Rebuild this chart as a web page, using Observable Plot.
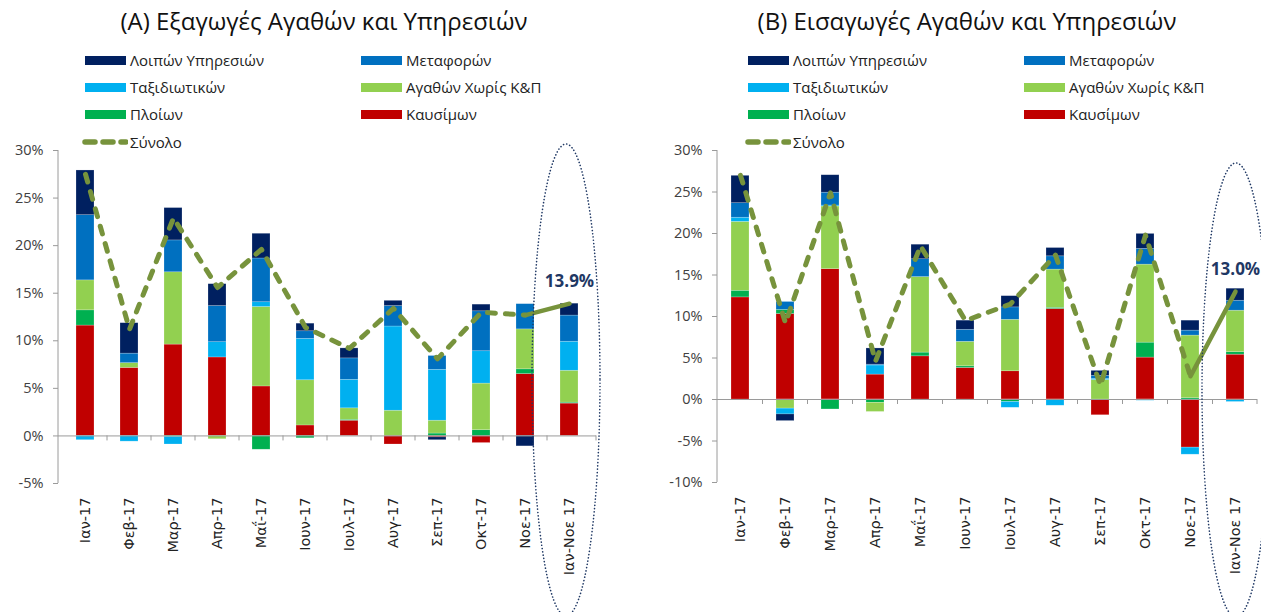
<!DOCTYPE html>
<html>
<head>
<meta charset="utf-8">
<script src="https://cdn.jsdelivr.net/npm/d3@7"></script>
<script src="https://cdn.jsdelivr.net/npm/@observablehq/plot@0.6"></script>
<style>
  body { margin: 0; background: #fff; }
  #wrap { position: relative; width: 1261px; height: 612px; overflow: hidden; font-family: "Open Sans", sans-serif; }
  .panel { position: absolute; top: 0; }
  .title { position: absolute; top: 4px; font-size: 24px; color: #111; white-space: nowrap; transform: translateX(-50%); }
  .leg { position: absolute; display: flex; align-items: center; font-size: 15px; color: #222; white-space: nowrap; height: 20px; }
  .sw { display: inline-block; width: 41px; height: 9px; margin-right: 4px; }
</style>
</head>
<body>
<div id="wrap"></div>
<script>
// ---------- Data ----------
const categories = ["Ιαν-17", "Φεβ-17", "Μαρ-17", "Απρ-17", "Μαΐ-17", "Ιουν-17", "Ιουλ-17", "Αυγ-17", "Σεπ-17", "Οκτ-17", "Νοε-17", "Ιαν-Νοε 17"];
const seriesNames = ["Λοιπών Υπηρεσιών", "Μεταφορών", "Ταξιδιωτικών", "Αγαθών Χωρίς Κ&Π", "Πλοίων", "Καυσίμων"];
const totalName = "Σύνολο";
const seriesColors = ["#002060", "#0070C0", "#00B0F0", "#92D050", "#00B050", "#C00000"];
const yTicksA = [-5, 0, 5, 10, 15, 20, 25, 30];
const yTicksB = [-10, -5, 0, 5, 10, 15, 20, 25, 30];
const titleA = "(A) Εξαγωγές Αγαθών και Υπηρεσιών";
const titleB = "(B) Εισαγωγές Αγαθών και Υπηρεσιών";

// (A) Exports, contributions in percentage points
const exportsOther     = [4.7, 3.2, 3.4, 2.3, 2.6, 0.8, 1.05, 0.55, -0.3, 0.7, -1.1, 1.25];
const exportsTransport = [6.85, 1.0, 3.35, 3.8, 4.6, 0.8, 2.25, 2.15, 1.45, 4.2, 2.65, 2.75];
const exportsTravel    = [-0.45, -0.6, -0.8, 1.6, 0.5, 4.35, 3.0, 8.85, 5.35, 3.4, 0.0, 3.05];
const exportsGoods     = [3.15, 0.5, 7.6, -0.35, 8.35, 4.75, 1.2, 2.65, 1.35, 4.9, 4.2, 3.35];
const exportsShips     = [1.6, 0.0, -0.1, 0.0, -1.45, -0.25, 0.1, 0.0, 0.25, 0.6, 0.5, 0.1];
const exportsFuel      = [11.6, 7.15, 9.6, 8.25, 5.2, 1.1, 1.6, -0.9, -0.15, -0.75, 6.5, 3.4];
const exportsTotal     = [27.5, 11.2, 22.9, 15.6, 19.6, 11.4, 9.2, 13.4, 8.1, 13.0, 12.7, 13.9];

// (B) Imports, contributions in percentage points
const importsOther     = [3.3, -0.8, 2.1, 1.95, 1.75, 1.1, 1.35, 1.0, 0.6, 1.8, 1.2, 1.45];
const importsTransport = [1.75, 0.95, 1.55, 0.1, 2.15, 1.45, 1.5, 1.6, 0.35, 1.9, 0.6, 1.2];
const importsTravel    = [0.5, -0.7, 0.12, 1.1, 0.0, 0.0, -0.7, -0.75, 0.15, -0.15, -0.85, -0.3];
const importsGoods     = [8.3, -1.1, 7.55, -1.1, 9.1, 2.95, 6.2, 4.6, 2.35, 9.4, 7.55, 5.0];
const importsShips     = [0.8, 0.5, -1.2, -0.4, 0.45, 0.2, -0.3, 0.15, 0.0, 1.8, 0.15, 0.3];
const importsFuel      = [12.3, 10.3, 15.7, 3.0, 5.2, 3.8, 3.4, 10.9, -1.9, 5.05, -5.8, 5.4];
const importsTotal     = [27.0, 9.2, 24.9, 4.6, 18.5, 9.5, 11.5, 17.4, 1.7, 19.8, 2.8, 13.0];

// ---------- Helpers ----------
const wrap = document.getElementById("wrap");
const olive = "#77933C";
const navyText = "#1F3864";

function records(seriesArrays) {
  // stack from bottom: Καυσίμων first ... Λοιπών last
  const out = [];
  for (let s = seriesNames.length - 1; s >= 0; s--) {
    categories.forEach((c, j) => out.push({cat: c, series: seriesNames[s], value: seriesArrays[s][j]}));
  }
  return out;
}

function buildPanel(cfg) {
  const data = records(cfg.series);
  const tot = categories.map((c, j) => ({cat: c, value: cfg.total[j]}));
  const chart = Plot.plot({
    width: cfg.width,
    height: 612,
    marginLeft: cfg.ml,
    marginRight: cfg.mr,
    marginTop: 150,
    marginBottom: cfg.mb,
    style: {fontFamily: "Open Sans, sans-serif", background: "transparent", overflow: "visible"},
    x: {type: "band", domain: categories, paddingInner: 0.6, paddingOuter: 0.3, axis: null, label: null},
    y: {domain: cfg.yDomain, axis: null, label: null},
    color: {domain: seriesNames, range: seriesColors},
    marks: [
      Plot.barY(data, {x: "cat", y: "value", fill: "series", stroke: "#ffffff", strokeOpacity: 0.35, strokeWidth: 0.6}),
      Plot.ruleY([0], {stroke: "#9a9a9a", strokeWidth: 1}),
      Plot.axisY({ticks: cfg.yTicks, tickFormat: d => d + "%", tickSize: 5, tickPadding: 10, fontSize: 14.5, stroke: "#9a9a9a", fill: "#404040", fontFamily: "Open Sans, sans-serif", label: null}),
      Plot.axisX({tickRotate: -90, tickSize: 0, tickPadding: 14, fontSize: 14.5, fill: "#222", fontFamily: "DejaVu Sans, sans-serif", label: null}),
      Plot.line(tot.slice(0, 11), {x: "cat", y: "value", stroke: olive, strokeWidth: 5, strokeDasharray: "8,10", strokeLinecap: "round", strokeLinejoin: "round"}),
      Plot.line(tot.slice(10), {x: "cat", y: "value", stroke: olive, strokeWidth: 4.5, strokeLinecap: "round"}),
      Plot.text(tot.slice(11), {x: "cat", y: "value", text: d => d.value.toFixed(1) + "%", dy: -22, fill: navyText, fontWeight: "bold", fontSize: 17, fontFamily: "Open Sans, sans-serif"})
    ]
  });
  const x = chart.scale("x"), y = chart.scale("y");
  const svg = d3.select(chart);
  const bw = x.bandwidth, step = x.step;
  const x0 = cfg.ml, x1 = cfg.width - cfg.mr;
  // y-axis line
  svg.append("line").attr("x1", x0).attr("x2", x0).attr("y1", y.apply(cfg.yDomain[1])).attr("y2", y.apply(cfg.yDomain[0]))
    .attr("stroke", "#9a9a9a").attr("stroke-width", 1);
  // category boundary ticks below zero line
  const y0 = y.apply(0);
  categories.forEach((c, j) => {
    const bx = x.apply(c) - (step - bw) / 2;
    if (j > 0) svg.append("line").attr("x1", bx).attr("x2", bx).attr("y1", y0).attr("y2", y0 + 5).attr("stroke", "#9a9a9a");
  });
  svg.append("line").attr("x1", x1).attr("x2", x1).attr("y1", y0).attr("y2", y0 + 5).attr("stroke", "#9a9a9a");
  // dotted ellipse around the cumulative column
  const last = categories[categories.length - 1];
  svg.append("ellipse")
    .attr("cx", x.apply(last) + bw / 2 + cfg.ellDx)
    .attr("cy", cfg.ellCy).attr("rx", cfg.ellRx).attr("ry", cfg.ellRy)
    .attr("fill", "none").attr("stroke", navyText).attr("stroke-width", 1.6)
    .attr("stroke-dasharray", "0.1,3.2").attr("stroke-linecap", "round");

  const div = document.createElement("div");
  div.className = "panel";
  div.style.left = cfg.left + "px";
  div.appendChild(chart);
  wrap.appendChild(div);

  // title
  const t = document.createElement("div");
  t.className = "title";
  t.textContent = cfg.title;
  t.style.left = cfg.titleX + "px";
  wrap.appendChild(t);

  // legend
  const items = seriesNames.map((n, i) => ({name: n, color: seriesColors[i]}));
  items.forEach((it, i) => {
    const col = i % 2, row = Math.floor(i / 2);
    const el = document.createElement("div");
    el.className = "leg";
    el.style.left = (cfg.legX + col * 276) + "px";
    el.style.top = (50 + row * 27) + "px";
    const sw = document.createElement("span");
    sw.className = "sw";
    sw.style.background = it.color;
    el.appendChild(sw);
    el.appendChild(document.createTextNode(it.name));
    wrap.appendChild(el);
  });
  const el = document.createElement("div");
  el.className = "leg";
  el.style.left = (cfg.legX - 3) + "px";
  el.style.top = (50 + 3 * 27 + 1) + "px";
  el.innerHTML = `<svg width="46" height="10" style="margin-right:2px"><line x1="3" y1="5" x2="44" y2="5" stroke="${olive}" stroke-width="5.5" stroke-linecap="round" stroke-dasharray="10,8"/></svg>`;
  el.appendChild(document.createTextNode(totalName));
  wrap.appendChild(el);
}

buildPanel({
  left: 0, width: 631, ml: 58, mr: 35, mb: 129, yDomain: [-5, 30], yTicks: yTicksA,
  series: [exportsOther, exportsTransport, exportsTravel, exportsGoods, exportsShips, exportsFuel],
  total: exportsTotal, title: titleA, titleX: 324, legX: 85,
  ellDx: -3, ellCy: 380, ellRx: 34, ellRy: 236
});
buildPanel({
  left: 631, width: 630, ml: 86, mr: 4, mb: 130, yDomain: [-10, 30], yTicks: yTicksB,
  series: [importsOther, importsTransport, importsTravel, importsGoods, importsShips, importsFuel],
  total: importsTotal, title: titleB, titleX: 967, legX: 748,
  ellDx: 1, ellCy: 390, ellRx: 34, ellRy: 227
});
</script>
</body>
</html>
